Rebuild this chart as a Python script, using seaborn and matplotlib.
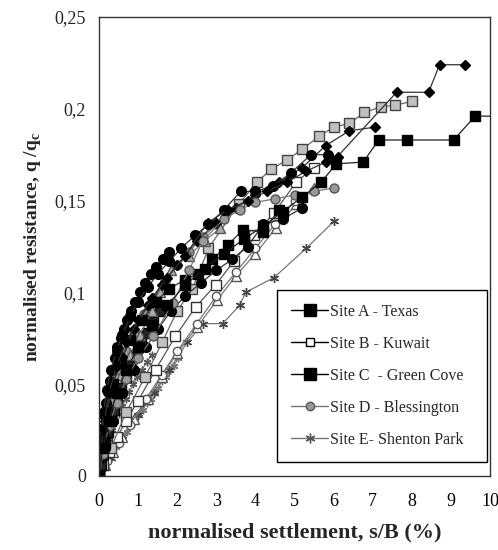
import matplotlib
matplotlib.use("Agg")
import matplotlib.pyplot as plt
from matplotlib.lines import Line2D
from matplotlib.ticker import MultipleLocator, FixedLocator, FixedFormatter
import seaborn as sns
import pandas as pd

# ---------------- data ----------------
# Site A - Texas (black squares)
a_x = [0, 0.1, 0.25, 0.45, 0.7, 1.0, 1.35, 1.75, 2.2, 2.7, 3.2, 3.7, 4.2, 4.7, 5.2, 5.68, 6.07, 6.76, 7.15, 7.89, 9.07, 9.62, 10.4]
a_y = [0, 0.015, 0.03, 0.045, 0.058, 0.07, 0.082, 0.093, 0.104, 0.113, 0.121, 0.129, 0.136, 0.144, 0.152, 0.160, 0.170, 0.171, 0.183, 0.183, 0.183, 0.196, 0.196]
# Site B - Kuwait (white squares)
b_x = [0, 0.1, 0.25, 0.45, 0.7, 1.0, 1.45, 1.95, 2.47, 2.98, 3.45, 3.96, 4.47, 5.04, 5.5]
b_y = [0, 0.006, 0.013, 0.021, 0.030, 0.041, 0.058, 0.076, 0.092, 0.104, 0.117, 0.131, 0.143, 0.160, 0.168]
# Site B - Kuwait (white triangles)
bt_x = [0, 0.15, 0.35, 0.6, 0.9, 1.25, 1.6, 2.0, 2.5, 3.03, 3.5, 4.0, 4.52, 5.04, 5.5]
bt_y = [0, 0.006, 0.013, 0.021, 0.031, 0.042, 0.054, 0.067, 0.081, 0.096, 0.109, 0.121, 0.135, 0.148, 0.157]
# Site B - Kuwait (white circles)
bc_x = [0, 0.2, 0.5, 0.8, 1.2, 1.6, 2.0, 2.5, 3.0, 3.5, 4.0, 4.5, 5.0]
bc_y = [0, 0.008, 0.018, 0.028, 0.042, 0.055, 0.068, 0.083, 0.098, 0.111, 0.124, 0.137, 0.150]
# Site C - Green Cove (black squares)
c_x = [0, 0.1, 0.2, 0.35, 0.55, 0.8, 1.1, 1.45, 1.8, 2.2, 2.52, 2.9, 3.3, 3.68, 4.2, 4.6]
c_y = [0, 0.02, 0.035, 0.05, 0.062, 0.074, 0.085, 0.095, 0.102, 0.107, 0.110, 0.118, 0.126, 0.134, 0.133, 0.145]
c2_x = [0, 0.05, 0.1, 0.16, 0.22, 0.3, 0.38, 0.47, 0.57, 0.68, 0.8, 0.93, 1.07, 1.22, 1.38, 1.55]
c2_y = [0, 0.006, 0.012, 0.018, 0.024, 0.030, 0.036, 0.042, 0.048, 0.054, 0.060, 0.066, 0.072, 0.078, 0.084, 0.090]
# Site C - Green Cove (black diamonds)
cd1_x = [0, 0.1, 0.25, 0.45, 0.7, 1.0, 1.35, 1.75, 2.2, 2.78, 3.3, 3.8, 4.3, 4.8, 5.3, 5.8, 6.1, 7.61, 8.43, 8.71, 9.36]
cd1_y = [0, 0.025, 0.045, 0.060, 0.073, 0.085, 0.097, 0.108, 0.120, 0.138, 0.145, 0.150, 0.155, 0.160, 0.166, 0.171, 0.174, 0.209, 0.209, 0.224, 0.224]
cd2_x = [0, 0.15, 0.35, 0.6, 0.9, 1.25, 1.6, 2.0, 2.5, 3.0, 3.5, 4.0, 4.6, 5.2, 5.8, 6.4, 7.05]
cd2_y = [0, 0.030, 0.050, 0.065, 0.080, 0.093, 0.104, 0.115, 0.128, 0.138, 0.146, 0.153, 0.160, 0.168, 0.180, 0.188, 0.190]
# black circles
k1_x = [0, 0.05, 0.12, 0.2, 0.3, 0.45, 0.6, 0.8, 1.0, 1.25, 1.5, 1.8, 2.1, 2.45, 2.8, 3.2, 3.62, 4.0, 4.45, 4.9, 5.42, 5.86]
k1_y = [0, 0.02, 0.035, 0.047, 0.058, 0.068, 0.077, 0.087, 0.095, 0.103, 0.110, 0.117, 0.124, 0.131, 0.137, 0.145, 0.155, 0.155, 0.158, 0.165, 0.175, 0.175]
k2_x = [0, 0.15, 0.35, 0.6, 0.9, 1.2, 1.5, 1.85, 2.2, 2.6, 3.0, 3.4, 3.8, 4.2, 4.7, 5.2]
k2_y = [0, 0.015, 0.030, 0.045, 0.058, 0.070, 0.080, 0.090, 0.098, 0.105, 0.112, 0.118, 0.125, 0.137, 0.140, 0.146]
k3_x = [0, 0.03, 0.06, 0.1, 0.14, 0.18, 0.23, 0.28, 0.34, 0.4, 0.47, 0.55, 0.63, 0.72, 0.82, 0.93, 1.05, 1.18, 1.32, 1.47, 1.63, 1.8]
k3_y = [0, 0.010, 0.018, 0.026, 0.033, 0.040, 0.046, 0.052, 0.058, 0.064, 0.070, 0.075, 0.080, 0.085, 0.090, 0.095, 0.100, 0.105, 0.110, 0.114, 0.118, 0.122]
# Site D - Blessington (grey circles)
d_x = [0, 0.1, 0.25, 0.45, 0.7, 1.0, 1.39, 1.88, 2.3, 2.65, 3.19, 3.6, 4.0, 4.5, 5.0, 5.5, 6.02]
d_y = [0, 0.012, 0.027, 0.040, 0.053, 0.064, 0.076, 0.094, 0.112, 0.128, 0.140, 0.145, 0.149, 0.151, 0.153, 0.155, 0.157]
d2_x = [0, 0.1, 0.2, 0.35, 0.5, 0.7, 0.9, 1.15, 1.4, 1.7, 2.0, 2.3, 2.65, 3.0]
d2_y = [0, 0.020, 0.035, 0.048, 0.058, 0.068, 0.078, 0.088, 0.097, 0.106, 0.115, 0.122, 0.130, 0.137]
# grey triangles
dt_x = [0, 0.1, 0.2, 0.35, 0.55, 0.8, 1.05, 1.36, 1.57, 1.83, 2.3, 2.7, 3.1]
dt_y = [0, 0.015, 0.030, 0.042, 0.055, 0.066, 0.077, 0.090, 0.100, 0.112, 0.120, 0.128, 0.135]
# grey squares
gs_x = [0, 0.3, 0.7, 1.18, 1.62, 2.0, 2.39, 2.8, 3.57, 4.04, 4.4, 4.8, 5.2, 5.63, 6.0, 6.4, 6.79, 7.2, 7.58, 8.0]
gs_y = [0, 0.015, 0.035, 0.054, 0.073, 0.090, 0.102, 0.124, 0.148, 0.160, 0.167, 0.172, 0.178, 0.185, 0.190, 0.192, 0.198, 0.201, 0.202, 0.204]
# Site E - Shenton Park (asterisks)
e_x = [0, 0.3, 0.6, 1.0, 1.4, 1.8, 2.26, 2.67, 3.16, 3.6, 3.75, 4.47, 5.3, 6.02]
e_y = [0, 0.010, 0.020, 0.033, 0.045, 0.058, 0.073, 0.083, 0.083, 0.093, 0.100, 0.108, 0.124, 0.139]
e2_x = [0, 0.08, 0.16, 0.25, 0.34, 0.43, 0.52, 0.62, 0.72, 0.82, 0.92, 1.02, 1.12, 1.22, 1.32, 1.42, 1.52, 1.62, 1.72, 1.82, 1.92, 2.02]
e2_y = [0, 0.004, 0.006, 0.010, 0.012, 0.016, 0.018, 0.022, 0.024, 0.028, 0.030, 0.034, 0.036, 0.040, 0.042, 0.046, 0.048, 0.052, 0.054, 0.058, 0.060, 0.064]
e3_x = [0, 0.06, 0.12, 0.19, 0.26, 0.34, 0.42, 0.5, 0.59, 0.68, 0.78, 0.88, 0.98, 1.1, 1.22, 1.35]
e3_y = [0, 0.005, 0.010, 0.015, 0.020, 0.025, 0.030, 0.034, 0.038, 0.042, 0.046, 0.050, 0.054, 0.058, 0.062, 0.066]

legend_labels = ["Site A - Texas", "Site B - Kuwait", "Site C  - Green Cove",
                 "Site D - Blessington", "Site E- Shenton Park"]
x_ticks = [0, 1, 2, 3, 4, 5, 6, 7, 8, 9, 10]
x_tick_labels = ["0", "1", "2", "3", "4", "5", "6", "7", "8", "9", "10"]
y_ticks = [0, 0.05, 0.1, 0.15, 0.2, 0.25]
y_tick_labels = ["0", "0,05", "0,1", "0,15", "0,2", "0,25"]

# ---------------- style ----------------
sns.set_style("white")
plt.rcParams["font.family"] = ["Liberation Serif", "DejaVu Sans"]
plt.rcParams["mathtext.fontset"] = "custom"
plt.rcParams["mathtext.rm"] = "Liberation Serif"
plt.rcParams["mathtext.bf"] = "Liberation Serif:bold"

fig = plt.figure(figsize=(4.98, 5.5), dpi=100)
ax = fig.add_axes([99 / 498, 74 / 550, 391 / 498, 459 / 550])

ASTER = (6, 2, 0)
series = [
    # x, y, marker, size, face, edge, line colour
    (e2_x, e2_y, ASTER, 5.5, "#777777", "#777777", "#888888"),
    (e3_x, e3_y, ASTER, 5.5, "#555555", "#555555", "#777777"),
    (e_x, e_y, ASTER, 6.5, "#444444", "#444444", "#777777"),
    (bt_x, bt_y, "^", 6.5, "white", "#555555", "#777777"),
    (bc_x, bc_y, "o", 6, "white", "#555555", "#777777"),
    (b_x, b_y, "s", 7, "white", "#333333", "#555555"),
    (gs_x, gs_y, "s", 7.3, "#c0c0c0", "#444444", "#666666"),
    (c2_x, c2_y, "s", 6.5, "#222222", "black", "#333333"),
    (d2_x, d2_y, "o", 6.5, "#999999", "#555555", "#777777"),
    (dt_x, dt_y, "^", 6.5, "#aaaaaa", "#555555", "#777777"),
    (k2_x, k2_y, "o", 7, "black", "black", "#333333"),
    (k3_x, k3_y, "o", 7, "black", "black", "#333333"),
    (c_x, c_y, "s", 7, "black", "black", "#333333"),
    (cd2_x, cd2_y, "D", 5.5, "black", "black", "#333333"),
    (d_x, d_y, "o", 6.5, "#999999", "#555555", "#777777"),
    (k1_x, k1_y, "o", 7, "black", "black", "#333333"),
    (cd1_x, cd1_y, "D", 5.5, "black", "black", "#333333"),
    (a_x, a_y, "s", 7.3, "black", "black", "#222222"),
]
for sx, sy, mk, ms, fc, ec, lc in series:
    df = pd.DataFrame({"x": sx, "y": sy})
    sns.lineplot(data=df, x="x", y="y", ax=ax, sort=False, estimator=None,
                 color=lc, linewidth=0.9, marker=mk, markersize=ms,
                 markerfacecolor=fc, markeredgecolor=ec, markeredgewidth=1.0,
                 legend=False)

ax.set_xlim(0, 10)
ax.set_ylim(0, 0.25)

ax.xaxis.set_major_locator(FixedLocator(x_ticks))
ax.xaxis.set_major_formatter(FixedFormatter(x_tick_labels))
ax.xaxis.set_minor_locator(MultipleLocator(0.5))
ax.yaxis.set_major_locator(FixedLocator(y_ticks))
ax.yaxis.set_major_formatter(FixedFormatter(y_tick_labels))
ax.yaxis.set_minor_locator(MultipleLocator(0.01))

ax.tick_params(axis="x", which="both", direction="in", length=4, width=0.8,
               labelsize=13, pad=12, colors="black")
ax.tick_params(axis="y", which="major", direction="inout", length=7, width=0.8,
               labelsize=13, pad=6)
ax.tick_params(axis="y", which="minor", direction="in", length=4, width=0.8)

for s in ax.spines.values():
    s.set_color("#333333")
    s.set_linewidth(1.0)

ax.set_xlabel("normalised settlement, s/B (%)", fontsize=16, fontweight="bold", labelpad=9)
ax.set_ylabel(r"normalised resistance, q /q$_{\mathbf{c}}$", fontsize=14,
              fontweight="bold", labelpad=8)

handles = [
    Line2D([], [], color="black", lw=1, marker="s", ms=8, mfc="black", mec="black"),
    Line2D([], [], color="black", lw=1, marker="s", ms=6, mfc="white", mec="black"),
    Line2D([], [], color="black", lw=1, marker="s", ms=8, mfc="black", mec="black"),
    Line2D([], [], color="#777777", lw=1, marker="o", ms=6, mfc="#999999", mec="#555555"),
    Line2D([], [], color="#777777", lw=1, marker=ASTER, ms=7, mfc="#555555", mec="#555555"),
]
leg = ax.legend(handles, legend_labels, loc="lower left",
                bbox_to_anchor=(0.455, 0.03, 0.537, 0.375), mode="expand",
                fontsize=11.5, frameon=True, fancybox=False, framealpha=1,
                edgecolor="black", handlelength=2.3, handletextpad=0.15,
                labelspacing=1.0, borderpad=0.9, borderaxespad=0)
leg.get_frame().set_linewidth(1.0)

fig.savefig("out.png", dpi=100)
